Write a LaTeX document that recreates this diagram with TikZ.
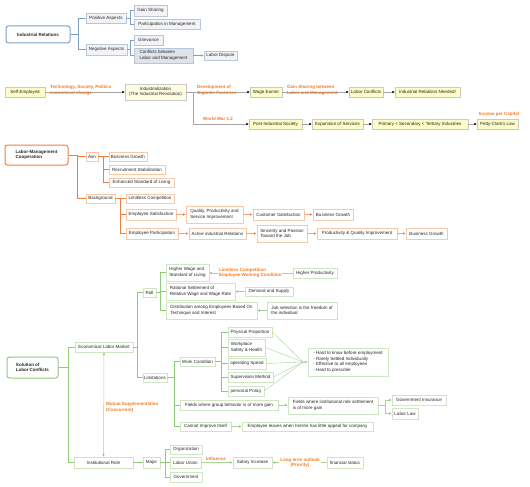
\documentclass[tikz,border=0pt]{standalone}
\usepackage{fontspec}
\setmainfont{Liberation Sans}
\usetikzlibrary{arrows.meta}
\definecolor{blu}{HTML}{7E9FC8}
\definecolor{bluB}{HTML}{B7C7D8}
\definecolor{bluF}{HTML}{F1F3F6}
\definecolor{bluC}{HTML}{E0E4EA}
\definecolor{ylw}{HTML}{FDFBC6}
\definecolor{ylwB}{HTML}{C9C9C9}
\definecolor{orgL}{HTML}{F6C9A8}
\definecolor{orgM}{HTML}{F08040}
\definecolor{orgT}{HTML}{F47B20}
\definecolor{grn}{HTML}{92C978}
\definecolor{grnL}{HTML}{CFE5C3}
\definecolor{grnT}{HTML}{A8D494}
\newcommand\dgfs{\fontsize{4.5}{5.6}\selectfont}
\newcommand\bx[6]{\node[#1,minimum width={#4-#2},minimum height={#5-#3}] (#6) at ({(#2+#4)/2},{(#3+#5)/2})}
\tikzset{
  every node/.style={inner sep=1pt, align=left, text=black!85},
  mainb/.style={draw=blu, line width=1pt, rounded corners=2.5pt, fill=white, font=\dgfs\bfseries},
  bxb/.style={draw=bluB, fill=bluF, line width=0.5pt},
  bxc/.style={draw=bluB, fill=bluC, line width=0.5pt},
  bxy/.style={draw=ylwB, fill=ylw, line width=0.5pt},
  bxy2/.style={draw=ylwB, fill=ylw!55, line width=0.5pt, align=center},
  maino/.style={draw=orgM, line width=1pt, rounded corners=2.5pt, fill=white, font=\dgfs\bfseries},
  bxo/.style={draw=orgL, fill=white, line width=0.6pt},
  maing/.style={draw=grn, line width=1pt, rounded corners=2.5pt, fill=white, font=\dgfs\bfseries},
  bxg/.style={draw=grnL, fill=white, line width=0.6pt},
  lnb/.style={draw=blu, line width=0.9pt},
  arrb/.style={draw=blu, line width=0.5pt, -{Latex[length=2.5pt,width=2.5pt]}},
  arry/.style={draw=black!35, line width=0.5pt, -{Latex[length=2.4pt,width=2.4pt,black]}},
  lno/.style={draw=orgM, line width=0.9pt},
  arro/.style={draw=orgM!70, line width=0.5pt, -{Latex[length=2.6pt,width=2.6pt,orgM]}},
  lng/.style={draw=grn, line width=0.9pt},
  lngt/.style={draw=grnT, line width=0.4pt},
  arrg/.style={draw=grnT, line width=0.5pt, -{Latex[length=2.6pt,width=2.6pt,grn]}},
  lab/.style={text=orgT, font=\dgfs\bfseries},
  labw/.style={lab, fill=white, inner sep=0.8pt},
}
\begin{document}
\begin{tikzpicture}[x=1pt,y=-1pt,font=\dgfs]
\useasboundingbox[fill=white] (0,0) rectangle (530,487);

% ---------- Section 1: Industrial Relations ----------
\bx{mainb}{6}{26}{70}{43}{ir}{Industrial Relations};
\bx{bxb}{86}{13}{126}{23}{pa}{Positive Aspects};
\bx{bxb}{134}{5}{167}{16}{gs}{Gain Sharing};
\bx{bxb}{134}{19}{200}{29}{pm}{Participation in Management};
\bx{bxb}{86}{44}{127}{55}{na}{Negative Aspects};
\bx{bxb}{134}{35}{163}{45}{gr}{Grievance};
\bx{bxc}{134}{48}{193}{63}{cb}{Conflicts between\\Labor and Management};
\bx{bxb}{204}{51}{237}{60}{ld}{Labor Dispute};
\draw[lnb] (ir.east) -- ++(8,0) |- (pa.west);
\draw[lnb] (ir.east) -- ++(8,0) |- (na.west);
\draw[lnb] (pa.east) -- ++(4,0) |- (gs.west);
\draw[lnb] (pa.east) -- ++(4,0) |- (pm.west);
\draw[lnb] (na.east) -- ++(3.5,0) |- (gr.west);
\draw[lnb] (na.east) -- ++(3.5,0) |- (cb.west);
\draw[arrb] (cb.east) -- (ld.west);

% ---------- Section 2 ----------
\bx{bxy}{5}{87}{45}{97}{se}{Self-Employed};
\bx{bxy2}{125}{84}{186}{100}{ind}{Industrialization\\(The Industrial Revolution)};
\bx{bxy}{250}{87}{282}{97}{we}{Wage Earner};
\bx{bxy}{349}{87}{383}{97}{lc}{Labor Conflicts};
\bx{bxy}{395}{87}{460}{97}{irn}{Industrial Relations Needed!};
\bx{bxy}{249}{119}{302}{129}{pis}{Post-Industrial Society};
\bx{bxy}{312}{119}{363}{129}{es}{Expansion of Services};
\bx{bxy}{372}{119}{468}{129}{pst}{Primary < Secondary < Tertiary Industries};
\bx{bxy}{477}{119}{518}{129}{pcl}{Petty-Clark's Law};
\draw[arry] (se.east) -- (ind.west);
\draw[arry] (ind.east) -- (we.west);
\draw[arry] (ind.east) -- ++(7,0) |- (pis.west);
\draw[arry] (we.east) -- (lc.west);
\draw[arry] (lc.east) -- (irn.west);
\draw[arry] (pis.east) -- (es.west);
\draw[arry] (es.east) -- (pst.west);
\draw[arry] (pst.east) -- (pcl.west);
\node[lab, anchor=west] (l1) at (49,90.6) {Technology, Society, Politics\\economical change};
\node[lab, anchor=west] (l2) at (196,90.6) {Development of\\Gigantic Factories};
\node[lab, anchor=west] (l3) at (286,90.6) {Gain Sharing between\\Labor and Management};
\node[lab] (l4) at (218,119.5) {World War 1,2};
\node[lab] (l5) at (499,114) {Income per Capital};

% ---------- Section 3 ----------
\bx{maino}{5}{145}{68}{165}{lmc}{Labor-Management\\Cooperation};
\bx{bxo}{86}{152}{98}{161}{aim}{Aim};
\bx{bxo}{109}{152}{147}{161}{bg1}{Business Growth};
\bx{bxo}{109}{165}{165}{174}{rs}{Recruitment Stabilization};
\bx{bxo}{109}{178}{174}{187}{esl}{Enhanced Standard of Living};
\bx{bxo}{86}{194}{115}{203}{bk}{Background};
\bx{bxo}{126}{194}{174}{203}{lcm}{Limitless Competition};
\bx{bxo}{126}{209}{176}{220}{esat}{Employee Satisfaction};
\bx{bxo}{186}{206}{243}{223}{qps}{Quality, Productivity and\\Service Improvement};
\bx{bxo}{253}{209}{304}{220}{cs}{Customer Satisfaction};
\bx{bxo}{313}{209}{353}{220}{bg2}{Business Growth};
\bx{bxo}{126}{228}{178}{239}{ep}{Employee Participation};
\bx{bxo}{189}{228}{246}{239}{air}{Active industrial Relations};
\bx{bxo}{257}{225}{307}{242}{spj}{Sincerity and Passion\\Toward the Job};
\bx{bxo}{317}{228}{397}{239}{pqi}{Productivity \& Quality Improvement};
\bx{bxo}{406}{228}{447}{239}{bg3}{Business Growth};
\draw[lno] (lmc.east) -- ++(9,0) |- (aim.west);
\draw[lno] (lmc.east) -- ++(9,0) |- (bk.west);
\draw[lno] (aim.east) -- ++(5,0) |- (bg1.west);
\draw[lno] (aim.east) -- ++(5,0) |- (rs.west);
\draw[lno] (aim.east) -- ++(5,0) |- (esl.west);
\draw[lno] (bk.east) -- ++(5,0) |- (lcm.west);
\draw[lno] (bk.east) -- ++(5,0) |- (esat.west);
\draw[lno] (bk.east) -- ++(5,0) |- (ep.west);
\draw[arro] (esat.east) -- (qps.west);
\draw[arro] (qps.east) -- (cs.west);
\draw[arro] (cs.east) -- (bg2.west);
\draw[arro] (ep.east) -- (air.west);
\draw[arro] (air.east) -- (spj.west);
\draw[arro] (spj.east) -- (pqi.west);
\draw[arro] (pqi.east) -- (bg3.west);

% ---------- Section 4 ----------
\bx{maing}{7}{357}{58}{378}{slc}{Solution of\\Labor Conflicts};
\bx{bxg}{75}{342}{133}{352}{elm}{Economical Labor Market};
\bx{bxg}{143}{288}{156}{297}{roll}{Roll};
\bx{bxg}{166}{264}{209}{281}{hw}{Higher Wage and\\Standard of Living};
\bx{bxg}{293}{268}{337}{278}{hp}{Higher Productivity};
\bx{bxg}{166}{283}{235}{300}{rsw}{Rational Settlement of\\Relative Wage and Wage Rate};
\bx{bxg}{245}{287}{293}{296}{ds}{Demand and Supply};
\bx{bxg}{166}{302}{257}{319}{dist}{Distribution among Employees Based On\\Technique and Interest};
\bx{bxg}{267}{302}{337}{319}{js}{Job selection is the freedom of\\the individual};
\bx{bxg}{143}{373}{167}{382}{lim}{Limitations};
\bx{bxg}{180}{357}{215}{366}{wc}{Work Condition};
\bx{bxg}{228}{327}{272}{337}{pp}{Physical Proportion};
\bx{bxg}{228}{339}{265}{356}{wsh}{Workplace\\Safety \& Health};
\bx{bxg}{228}{358}{266}{369}{os}{operating Speed};
\bx{bxg}{228}{372}{273}{382}{sm}{Supervision Method};
\bx{bxg}{228}{386}{264}{396}{ppol}{personal Policy};
\bx{bxg}{308}{348}{388}{376}{hk}{- Hard to know before employment\\- Rarely Settled Individually\\- Effective to all employees\\- Hard to prescribe};
\bx{bxg}{180}{400}{278}{410}{fg}{Fields where group behavior is of more gain};
\bx{bxg}{288}{397}{378}{414}{fi}{Fields where institutional role settlement\\is of more gain};
\bx{bxg}{392}{395}{446}{405}{gi}{Government Insurance};
\bx{bxg}{392}{408}{418}{419}{ll}{Labor Law};
\bx{bxg}{180}{422}{231}{431}{cii}{Cannot Improve Itself};
\bx{bxg}{242}{422}{373}{431}{el}{Employee leaves when he/she has little appeal for company};
\bx{bxg}{74}{457}{133}{468}{irole}{Institutional Role};
\bx{bxg}{143}{457}{160}{468}{maj}{Major};
\bx{bxg}{170}{445}{202}{454}{orgn}{Organization};
\bx{bxg}{170}{457}{201}{468}{lu}{Labor Union};
\bx{bxg}{170}{472}{202}{482}{gov}{Government};
\bx{bxg}{233}{457}{272}{468}{si}{Salary Increase};
\bx{bxg}{327}{457}{363}{468}{fst}{financial status};

\draw[lng] (slc.east) -- ++(10,0) |- (elm.west);
\draw[lng] (slc.east) -- ++(10,0) |- (irole.west);
\draw[lng] (elm.east) -- ++(4,0) |- (roll.west);
\draw[lng] (elm.east) -- ++(4,0) |- (lim.west);
\draw[lng] (roll.east) -- ++(4,0) |- (hw.west);
\draw[lng] (roll.east) -- ++(4,0) |- (rsw.west);
\draw[lng] (roll.east) -- ++(4,0) |- (dist.west);
\draw[lng] (lim.east) -- ++(7,0) |- (wc.west);
\draw[lng] (lim.east) -- ++(7,0) |- (fg.west);
\draw[lng] (lim.east) -- ++(7,0) |- (cii.west);
\draw[lng] (wc.east) -- ++(6,0) |- (pp.west);
\draw[lng] (wc.east) -- ++(6,0) |- (wsh.west);
\draw[lng] (wc.east) -- ++(6,0) |- (os.west);
\draw[lng] (wc.east) -- ++(6,0) |- (sm.west);
\draw[lng] (wc.east) -- ++(6,0) |- (ppol.west);
\draw[lng] (irole.east) -- (maj.west);
\draw[lng] (maj.east) -- ++(5,0) |- (orgn.west);
\draw[lng] (maj.east) -- ++(5,0) |- (lu.west);
\draw[lng] (maj.east) -- ++(5,0) |- (gov.west);

\draw[arrg] (hp.west) -- (hw.east |- hp.west);
\draw[arrg] (ds.west) -- (rsw.east |- ds.west);
\draw[arrg] (js.west) -- (dist.east);
\coordinate (cv) at (303,362);
\foreach \n in {pp,wsh,os,sm,ppol} {\draw[lngt] (\n.east) -- (cv);}
\draw[arrg] (cv) -- (hk.west);
\draw[arrg] (fg.east) -- (fi.west |- fg.east);
\draw[arrg] (fi.east) -- ++(7,0) |- (gi.west);
\draw[arrg] (fi.east) -- ++(7,0) |- (ll.west);
\draw[arrg] (cii.east) -- (el.west);
\draw[arrg] (lu.east) -- (si.west);
\draw[arrg] (fst.west) -- (si.east);
\draw[arrg, {Latex[length=2.6pt,width=2.6pt,grn]}-{Latex[length=2.6pt,width=2.6pt,grn]}] (elm.south) -- (irole.north);

\node[labw, anchor=west] (l6) at (218,273) {Limitless Competition\\Employee Working Condition};
\node[lab, anchor=west] (l7) at (105,407.5) {Mutual Supplementation\\(Concurrent)};
\node[lab] (l8) at (216,459) {Influence};
\node[labw, align=center] (l9) at (300,462.8) {Long term outlook\\(Priority)};
\end{tikzpicture}
\end{document}
